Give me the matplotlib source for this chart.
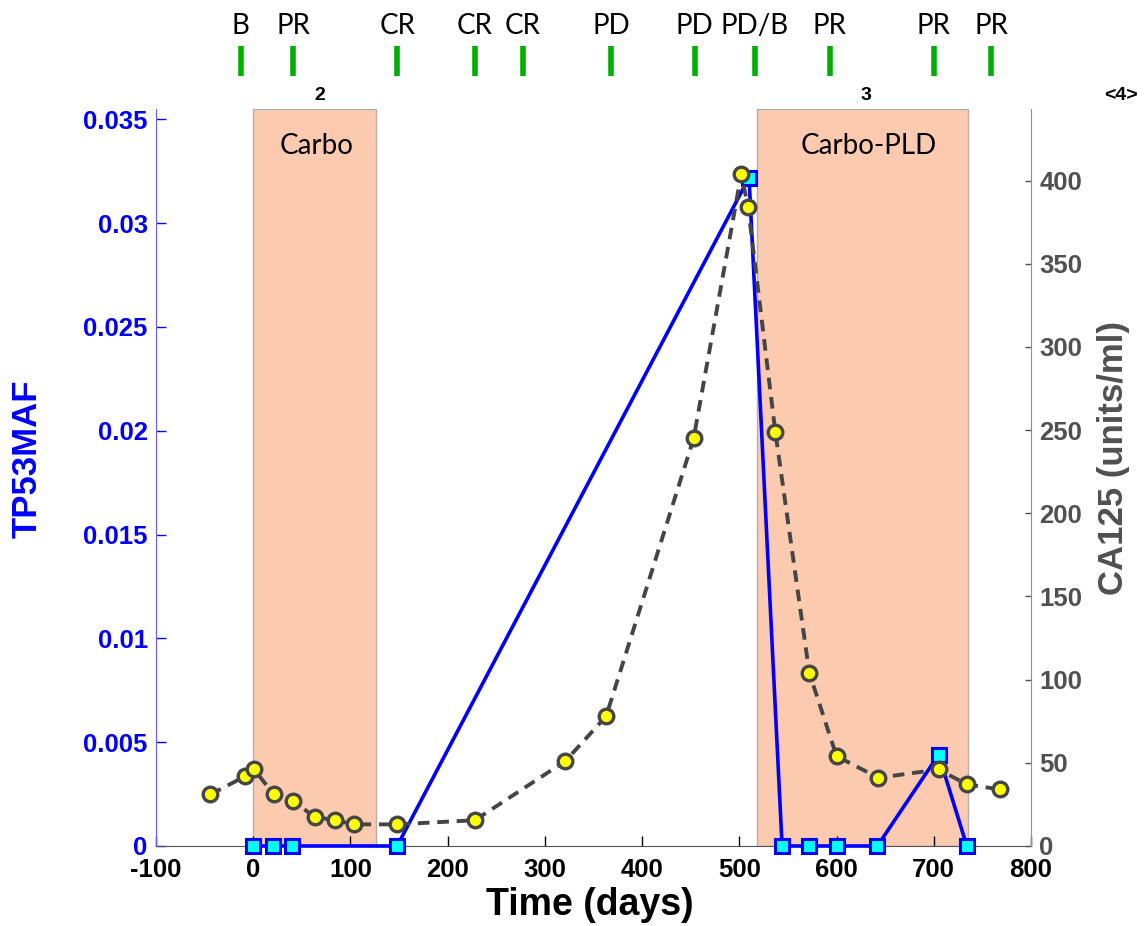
import matplotlib
matplotlib.use("Agg")
import matplotlib.pyplot as plt
from matplotlib.ticker import FixedLocator, FuncFormatter

# TP53 mutant allele fraction (left axis)
tp53_dias = [0, 20, 40, 148, 510, 544, 572, 600, 642, 705, 734]
tp53_maf = [0, 0, 0, 0, 0.0322, 0, 0, 0, 0, 0.0044, 0]

# CA125 (right axis)
ca125_dias = [-44, -8, 1, 21, 41, 63, 84, 104, 148, 228, 321, 363, 453,
              502, 509, 537, 572, 600, 643, 705, 734, 768]
ca125_valores = [31, 42, 46, 31, 27, 17.5, 15.5, 13, 13, 15.5, 51, 78, 245,
                 404, 384, 249, 104, 54, 41, 46, 37, 34]

# respuesta clinica (marcas verdes arriba)
resp_dias = [-13, 41, 148, 228, 277, 368, 454, 516, 593, 700, 759]
resp_labels = ["B", "PR", "CR", "CR", "CR", "PD", "PD", "PD/B", "PR", "PR", "PR"]

# tratamientos
trat_inicio = [0, 518]
trat_fin = [126, 735]
trat_nombres = ["Carbo", "Carbo-PLD"]
trat_texto_x = [65, 633]
lineas_nombres = ["2", "3", "<4>"]
lineas_dias = [68, 630, 893]

azul = "#0000FF"
gris = "#505050"
salmon = "#FCCAAF"
fuente = "Liberation Sans"

fig = plt.figure(figsize=(11.44, 9.26), dpi=100)
ax1 = fig.add_axes([0.1364, 0.0864, 0.7648, 0.7959])
ax2 = ax1.twinx()

for ini, fin in zip(trat_inicio, trat_fin):
    ax1.axvspan(ini, fin, facecolor=salmon, edgecolor="#B0B0B0", lw=1, zorder=0)

ax1.plot(tp53_dias, tp53_maf, "-s", color=azul, lw=2.6, ms=9.5,
         mfc="#00FFFF", mec=azul, mew=2.2, zorder=3, clip_on=False)
ax2.plot(ca125_dias, ca125_valores, "--o", color="#454545", lw=2.8,
         dashes=(3, 2), ms=10.5, mfc="#FFFF00", mec="#454545", mew=2.4,
         zorder=3, clip_on=False)

ax1.set_xlim(-100, 800)
ax1.set_ylim(0, 0.0355)
ax2.set_ylim(0, 443)

ax1.xaxis.set_major_locator(FixedLocator(range(-100, 801, 100)))
ax1.xaxis.set_major_formatter(FuncFormatter(lambda v, p: "%d" % v))
ax1.yaxis.set_major_locator(FixedLocator([i * 0.005 for i in range(8)]))
ax1.yaxis.set_major_formatter(FuncFormatter(lambda v, p: "%g" % round(v, 4)))
ax2.yaxis.set_major_locator(FixedLocator(range(0, 401, 50)))

ax1.tick_params(axis="x", direction="in", length=7, width=1, colors="black",
                labelsize=18.5, pad=9)
ax1.tick_params(axis="y", direction="in", length=7, width=1, colors=azul,
                labelsize=18.5, pad=6)
ax2.tick_params(axis="y", direction="in", length=4, width=1, colors=gris,
                labelsize=18.5, pad=6)
for lab in ax1.get_xticklabels() + ax1.get_yticklabels() + ax2.get_yticklabels():
    lab.set_fontfamily(fuente)
    lab.set_fontweight("bold")

for a in (ax1, ax2):
    a.spines["top"].set_visible(False)
ax1.spines["left"].set_color("#6060FF")
ax1.spines["bottom"].set_color("#555555")
ax1.spines["right"].set_visible(False)
ax2.spines["left"].set_visible(False)
ax2.spines["bottom"].set_visible(False)
ax2.spines["right"].set_color("#909090")

ax1.set_xlabel("Time (days)", fontsize=27, fontweight="bold", family=fuente)
ax1.xaxis.set_label_coords(0.496, -0.056)
ax1.set_ylabel("TP53MAF", fontsize=25, fontweight="bold", color=azul, family=fuente)
ax1.yaxis.set_label_coords(-0.128, 0.526)
ax2.set_ylabel("CA125 (units/ml)", fontsize=25, fontweight="bold", color=gris,
               family=fuente, rotation=90)
ax2.yaxis.set_label_coords(1.076, 0.526)

# nombres de tratamientos dentro de las bandas
for x, nombre in zip(trat_texto_x, trat_nombres):
    ax1.text(x, 0.0337, nombre, ha="center", va="center",
             fontsize=20, family="Lato")

# eje superior con respuesta clinica
axt = fig.add_axes([0.1364, 1 - 109 / 926, 0.7648, 109 / 926], sharex=ax1)
axt.set_ylim(109, 0)
axt.axis("off")
axt.vlines(resp_dias, 46, 76, color="#00B000", lw=4)
for d, lab in zip(resp_dias, resp_labels):
    axt.text(d, 26, lab, ha="center", va="center", fontsize=20, family="Lato")
for d, lab in zip(lineas_dias, lineas_nombres):
    axt.text(d, 96, lab, ha="center", va="center", fontsize=14,
             fontweight="bold", family=fuente, clip_on=False)

fig.savefig("out.png", dpi=100)
